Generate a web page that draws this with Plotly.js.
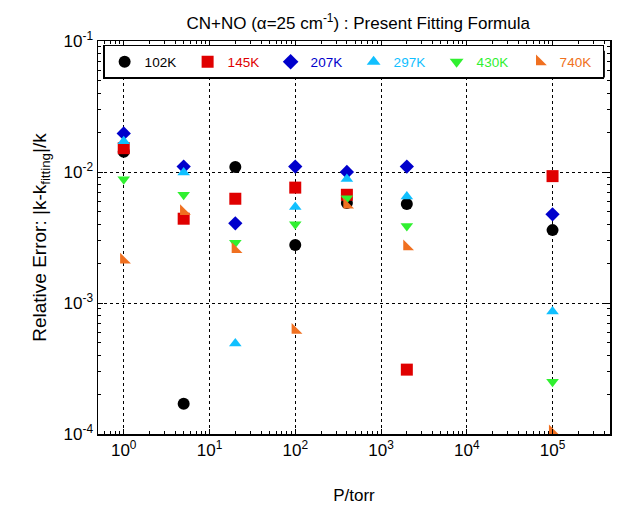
<!DOCTYPE html>
<html><head><meta charset="utf-8">
<script src="https://cdn.plot.ly/plotly-3.0.1.min.js"></script>
<style>html,body{margin:0;padding:0;background:#fff}#c{width:623px;height:509px}</style>
</head><body><div id="c"></div>
<script>
const pressures = [1, 5, 20, 100, 400, 2000, 100000];
const temps = ['102K', '145K', '207K', '297K', '430K', '740K'];
const err102 = [0.0143, 0.00017, 0.0109, 0.00277, 0.0058, 0.0057, 0.0036];
const err145 = [0.0152, 0.0044, 0.00625, 0.0076, 0.0067, 0.00031, 0.0093];
const err207 = [0.0197, 0.0110, 0.00406, 0.0110, 0.0100, 0.0110, 0.00475];
const err297 = [0.0172, 0.0099, 0.00049, 0.0054, 0.00885, 0.0065, 0.00086];
const err430 = [0.0088, 0.0067, 0.00288, 0.0040, 0.0063, 0.00387, 0.00025];
const err740 = [0.00213, 0.0050, 0.00257, 0.00062, 0.00561, 0.00269, 0.000104];
const seriesVals = [err102, err145, err207, err297, err430, err740];
const xTickExp = [0, 1, 2, 3, 4, 5];
const yTickExp = [-4, -3, -2, -1];
const colors = ['#000000', '#e00000', '#0000cc', '#10c0ff', '#30f030', '#f07020'];
const symbols = ['circle', 'square', 'diamond', 'triangle-up', 'triangle-down', 'triangle-sw'];
const sizes = [12, 12, 11, 11, 11, 12];

const FONT = 'Liberation Sans, Arial, sans-serif';
const traces = temps.map((t, i) => ({
  x: pressures, y: seriesVals[i], type: 'scatter', mode: 'markers',
  name: '<span style="color:' + colors[i] + '">' + t + '</span>',
  marker: {symbol: symbols[i], color: colors[i], size: sizes[i], line: {width: 0}}
}));

const axisCommon = {
  type: 'log', showline: true, linecolor: '#000', linewidth: 1.5, mirror: 'allticks',
  ticks: 'inside', ticklen: 5, tickcolor: '#000', tickwidth: 1,
  showgrid: true, gridcolor: '#000', gridwidth: 1, griddash: 'dot',
  zeroline: false,
  tickfont: {family: FONT, size: 17, color: '#000'},
  minor: {ticks: 'inside', ticklen: 3, tickcolor: '#000', showgrid: false, dtick: 'D1'}
};

const layout = {
  width: 623, height: 509,
  margin: {l: 98, r: 13, t: 41, b: 75},
  paper_bgcolor: '#fff', plot_bgcolor: '#fff',
  font: {family: FONT, color: '#000'},
  title: {text: 'CN+NO (α=25 cm<sup>-1</sup>) : Present Fitting Formula', font: {family: FONT, size: 17}, x: 0.575, xanchor: 'center', y: 0.967},
  xaxis: Object.assign({}, axisCommon, {range: [-0.3, 5.67],
    tickvals: xTickExp.map(e => Math.pow(10, e)), ticktext: xTickExp.map(e => '10<sup>' + e + '</sup>'),
    title: {text: 'P/torr', font: {family: FONT, size: 17}, standoff: 30}}),
  yaxis: Object.assign({}, axisCommon, {range: [-4, -1],
    tickvals: yTickExp.map(e => Math.pow(10, e)), ticktext: yTickExp.map(e => '10<sup>' + e + '</sup>'),
    title: {text: 'Relative Error: |k-k<sub>fitting</sub>|/k', font: {family: FONT, size: 19}, standoff: 12}}),
  showlegend: true,
  legend: {orientation: 'h', x: 0.01, y: 0.99, xanchor: 'left', yanchor: 'top',
    bgcolor: '#fff', bordercolor: '#000', borderwidth: 1.5,
    font: {family: FONT, size: 13.5}, entrywidth: 38, itemsizing: 'constant', tracegroupgap: 0},
  shapes: [{type: 'rect', xref: 'paper', yref: 'paper', x0: 0.016, x1: 0.99, y0: 0.907, y1: 0.975,
    fillcolor: '#000', line: {width: 0}, layer: 'below'}]
};

Plotly.newPlot('c', traces, layout, {displayModeBar: false, staticPlot: true});
</script>
</body></html>
